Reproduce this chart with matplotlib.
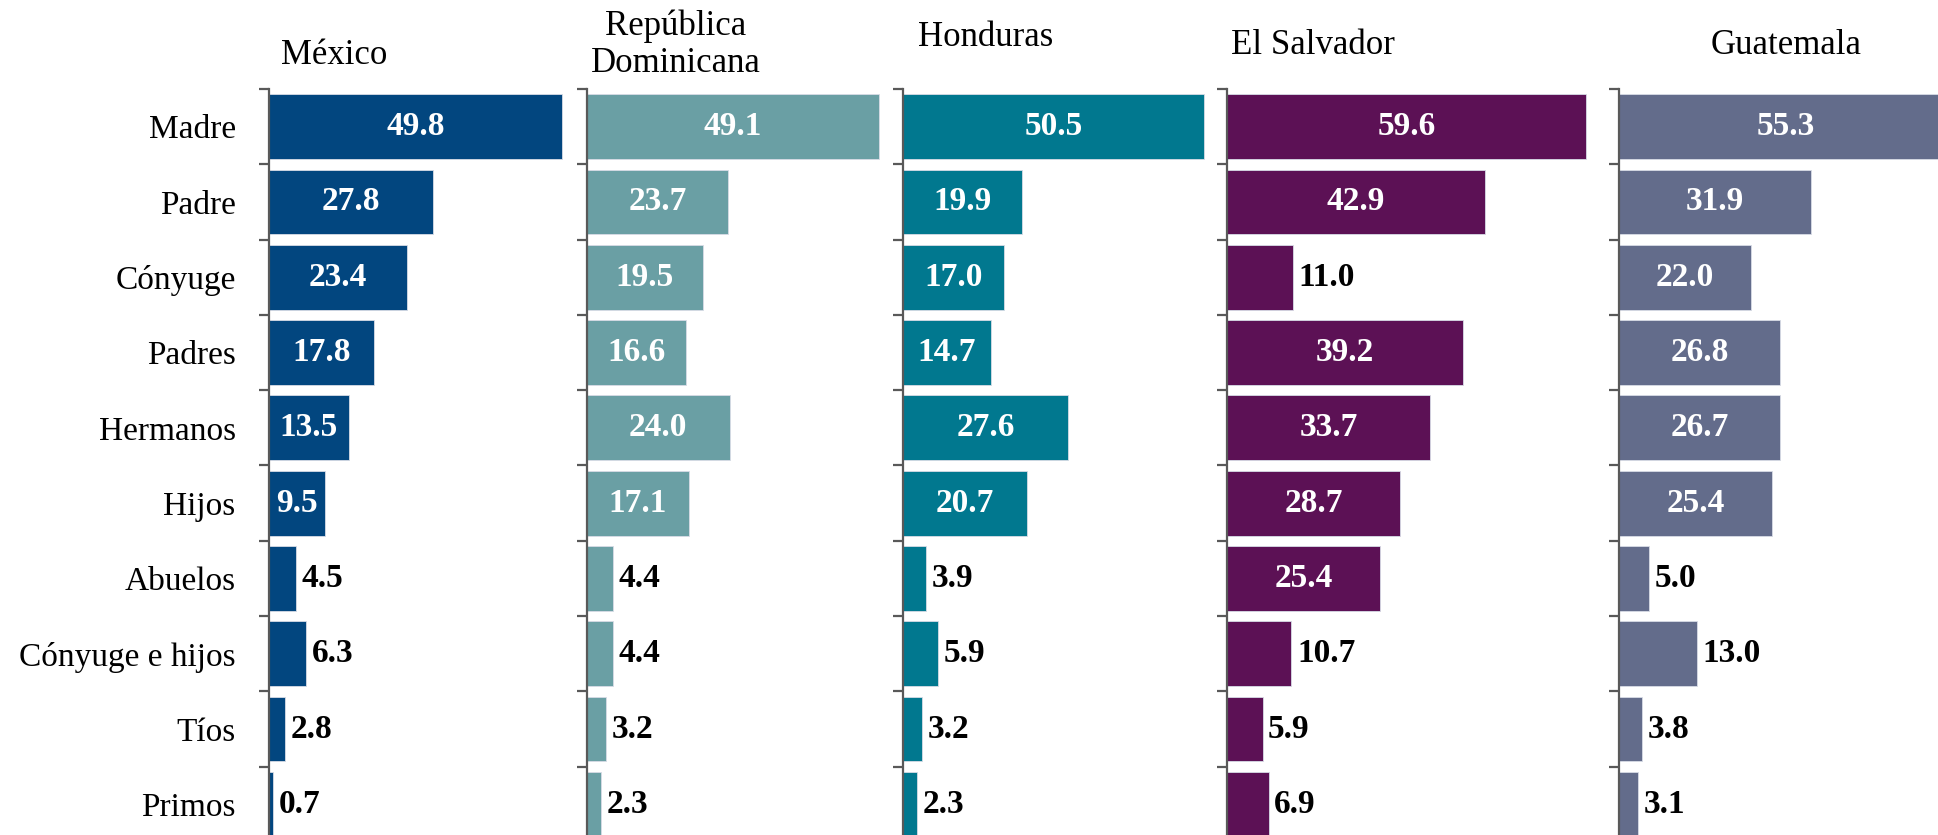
import matplotlib.pyplot as plt
import numpy as np

categorias = ['Madre', 'Padre', 'Cónyuge', 'Padres', 'Hermanos', 'Hijos',
              'Abuelos', 'Cónyuge e hijos', 'Tíos', 'Primos']
paises = ['México', 'República\nDominicana', 'Honduras', 'El Salvador', 'Guatemala']

mexico = [49.8, 27.8, 23.4, 17.8, 13.5, 9.5, 4.5, 6.3, 2.8, 0.7]
rep_dom = [49.1, 23.7, 19.5, 16.6, 24.0, 17.1, 4.4, 4.4, 3.2, 2.3]
honduras = [50.5, 19.9, 17.0, 14.7, 27.6, 20.7, 3.9, 5.9, 3.2, 2.3]
el_salvador = [59.6, 42.9, 11.0, 39.2, 33.7, 28.7, 25.4, 10.7, 5.9, 6.9]
guatemala = [55.3, 31.9, 22.0, 26.8, 26.7, 25.4, 5.0, 13.0, 3.8, 3.1]

series = [mexico, rep_dom, honduras, el_salvador, guatemala]
colores = ['#02467f', '#6a9fa4', '#01788f', '#5c1155', '#636c8b']
umbral = [9, 10, 10, 12, 14]   # label goes inside the bar from this value up

W, H = 1938, 835
lefts = [269, 587, 903, 1227, 1619]
widths = [310, 305, 315, 380, 319]
px_unit = [5.89, 5.94, 5.97, 6.02, 6.02]
top, bottom = 89, 842

titulo_x = [334, 676, 986, 1313, 1786]
titulo_y = [56, 45, 37, 46, 46]

plt.rcParams['font.family'] = ['Liberation Serif', 'DejaVu Serif']

fig = plt.figure(figsize=(W / 100, H / 100), dpi=100)
y = np.arange(len(categorias))

for i, vals in enumerate(series):
    ax = fig.add_axes([lefts[i] / W, (H - bottom) / H, widths[i] / W, (bottom - top) / H])
    ax.barh(y, vals, height=0.86, color=colores[i], edgecolor='#d8dce6', linewidth=0.6)
    ax.set_xlim(0, widths[i] / px_unit[i])
    ax.set_ylim(9.5, -0.5)

    for j, v in enumerate(vals):
        if v >= umbral[i]:
            ax.text(v / 2, j, f'{v:.1f}', ha='center', va='center', color='white',
                    fontsize=24, fontweight='bold')
        else:
            ax.annotate(f'{v:.1f}', (v, j), xytext=(4, 0), textcoords='offset points',
                        ha='left', va='center', color='black', fontsize=24, fontweight='bold')

    for s in ['top', 'right', 'bottom']:
        ax.spines[s].set_visible(False)
    ax.spines['left'].set_color('#595959')
    ax.spines['left'].set_linewidth(1.6)
    ax.set_xticks([])
    ax.set_yticks(np.arange(-0.5, 10, 1))
    ax.set_yticklabels([])
    ax.tick_params(axis='y', which='major', length=7, width=1.6, color='#595959')
    ax.set_yticks(y, minor=True)
    if i == 0:
        ax.set_yticklabels(categorias, minor=True, fontsize=24)
        ax.tick_params(axis='y', which='minor', length=0, pad=24)
    else:
        ax.tick_params(axis='y', which='minor', length=0, labelleft=False)

    fig.text(titulo_x[i] / W, 1 - titulo_y[i] / H, paises[i], ha='center', va='center',
             fontsize=25, linespacing=1.15)

plt.savefig('out.png', dpi=100)
